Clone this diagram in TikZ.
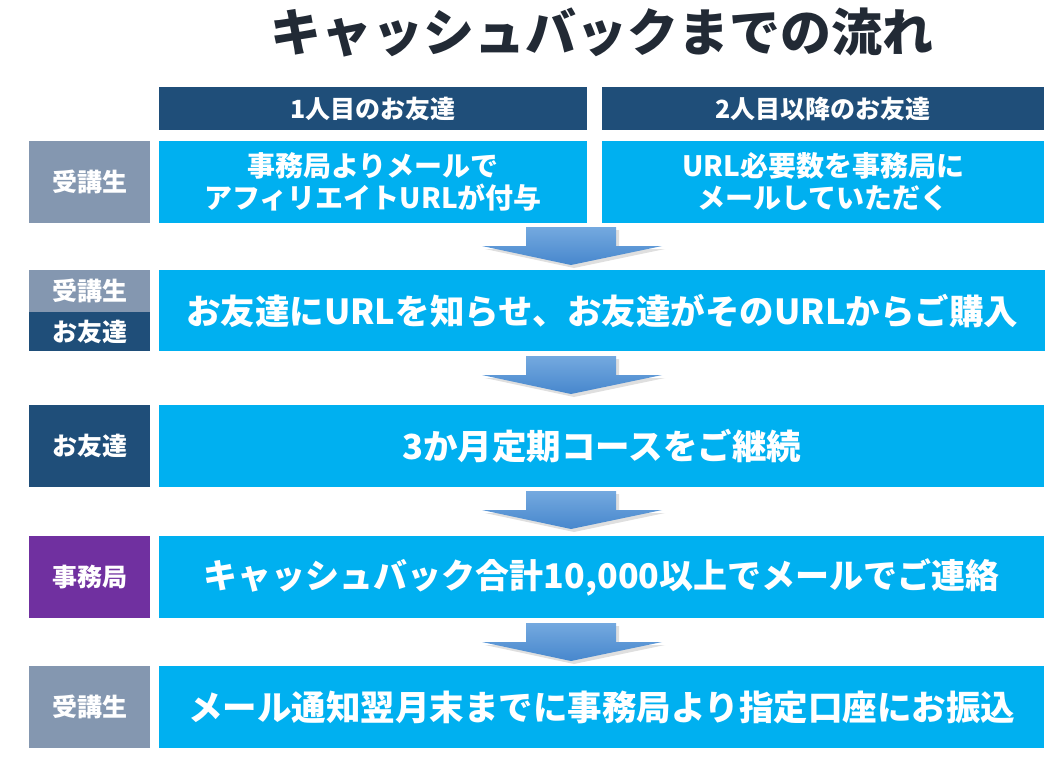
\documentclass[tikz,border=0pt]{standalone}
\usepackage{fontspec}
\setmainfont{Noto Sans CJK JP}
\usetikzlibrary{shadows}
\definecolor{lab}{HTML}{8497B0}
\definecolor{navy}{HTML}{1F4E79}
\definecolor{purp}{HTML}{7030A0}
\definecolor{sky}{HTML}{00B0F0}
\definecolor{ttl}{HTML}{222A35}
\definecolor{arT}{HTML}{74A9DF}
\definecolor{arB}{HTML}{4787CD}
\newcommand\fs[1]{\bfseries\fontsize{#1}{#1}\selectfont}
\begin{document}
\begin{tikzpicture}[x=1pt,y=-1pt,
  box/.style={anchor=north west, inner sep=0pt, text=white, align=center},
  labelbox/.style={box, minimum width=121, font=\fs{25}},
  flowbox/.style={box, fill=sky, font=\fs{34.5}},
  headbox/.style={box, fill=navy, minimum width=428, minimum height=43, font=\fs{25}},
  flowarrow/.style={draw=none, top color=arT, bottom color=arB,
    drop shadow={opacity=0.25, shadow xshift=3pt, shadow yshift=-3pt}},
]
\useasboundingbox (0,0) rectangle (1057,758);

\node[font=\fs{51}, text=ttl] (title) at (602,32) {キャッシュバックまでの流れ};

% headers
\node[headbox] (h1) at (159,87) {1人目のお友達};
\node[headbox, minimum width=442] (h2) at (602,87) {2人目以降のお友達};

% row 1
\node[labelbox, fill=lab, minimum height=82] (l1) at (29,141) {受講生};
\node[box, fill=sky, minimum width=428, minimum height=82, font=\bfseries\fontsize{28}{32}\selectfont] (b1a) at (159,141) {事務局よりメールで\\アフィリエイトURLが付与};
\node[box, fill=sky, minimum width=442, minimum height=82, font=\bfseries\fontsize{28}{32}\selectfont] (b1b) at (602,141) {URL必要数を事務局に\\メールしていただく};

% row 2
\node[labelbox, fill=lab, minimum height=42] (l2a) at (29,270) {受講生};
\node[labelbox, fill=navy, minimum height=39] (l2b) at (29,312) {お友達};
\node[flowbox, minimum width=886, minimum height=81] (b2) at (159,270) {お友達にURLを知らせ、お友達がそのURLからご購入};

% row 3
\node[labelbox, fill=navy, minimum height=82] (l3) at (29,405) {お友達};
\node[flowbox, minimum width=885, minimum height=82] (b3) at (159,405) {3か月定期コースをご継続};

% row 4
\node[labelbox, fill=purp, minimum height=82] (l4) at (29,536) {事務局};
\node[flowbox, minimum width=885, minimum height=82, font=\fs{34}] (b4) at (159,536) {キャッシュバック合計10,000以上でメールでご連絡};

% row 5
\node[labelbox, fill=lab, minimum height=82] (l5) at (29,666) {受講生};
\node[flowbox, minimum width=885, minimum height=82] (b5) at (159,666) {メール通知翌月末までに事務局より指定口座にお振込};

% block arrows
\foreach \t in {227,356,491,623}{
  \path[flowarrow] (526,\t) -- (616,\t) -- (616,\t+19) -- (662,\t+19) -- (571,\t+38) -- (482,\t+19) -- (526,\t+19) -- cycle;
}
\end{tikzpicture}
\end{document}
